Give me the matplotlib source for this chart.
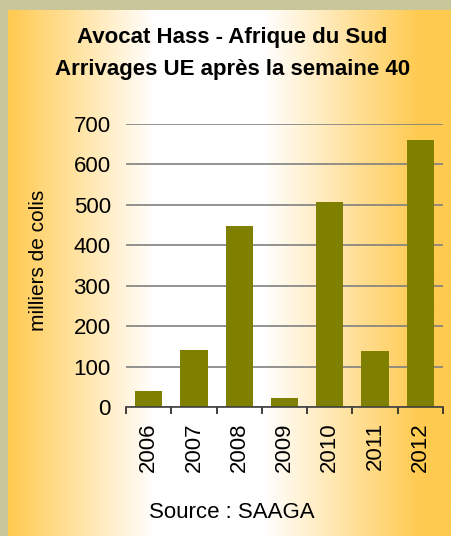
import numpy as np
import matplotlib
matplotlib.use("Agg")
import matplotlib.pyplot as plt
from matplotlib.colors import LinearSegmentedColormap

plt.rcParams["font.family"] = ["Liberation Sans", "DejaVu Sans"]

# data
years = ["2006", "2007", "2008", "2009", "2010", "2011", "2012"]
arrivals = [40, 141, 448, 22, 507, 139, 660]
y_ticks = [0, 100, 200, 300, 400, 500, 600, 700]

BORDER = "#c9c79a"
YELLOW = "#ffca50"
BAR = "#808000"
GRID = "#808080"

W, H = 451, 536
fig = plt.figure(figsize=(W / 100, H / 100), dpi=100)
fig.patch.set_facecolor(BORDER)

# gradient panel (border: 8 px left, 10 px top)
bg = fig.add_axes([8 / W, 0, 1 - 8 / W, 1 - 10 / H])
bg.axis("off")
cmap = LinearSegmentedColormap.from_list(
    "grad", [(0.0, YELLOW), (0.33, "#ffffff"), (0.58, "#ffffff"),
             (0.93, YELLOW), (1.0, YELLOW)])
bg.imshow(np.linspace(0, 1, 512)[None, :], aspect="auto", cmap=cmap,
          extent=[0, 1, 0, 1])
bg.set_xlim(0, 1)
bg.set_ylim(0, 1)

# plot area
x_left, x_right, y_top, y_bot = 126, 443, 124, 407
ax = fig.add_axes([x_left / W, 1 - y_bot / H, (x_right - x_left) / W,
                   (y_bot - y_top) / H])
ax.set_facecolor("none")

x = np.arange(len(years))
ax.bar(x, arrivals, width=0.6, color=BAR, zorder=3)
ax.set_xlim(-0.5, len(years) - 0.5)
ax.set_ylim(0, 700)

ax.set_yticks(y_ticks)
ax.yaxis.grid(True, color=GRID, linewidth=1.2, zorder=1)
ax.tick_params(axis="y", length=0, pad=11, labelsize=16)

ax.set_xticks(x)
ax.set_xticklabels(years, rotation=90, fontsize=16)
ax.set_xticks(np.arange(-0.5, len(years)), minor=True)
ax.tick_params(axis="x", which="major", length=0, pad=11)
ax.tick_params(axis="x", which="minor", length=5, width=1.2, color="#202020")

for side in ["top", "right", "left"]:
    ax.spines[side].set_visible(False)
ax.spines["bottom"].set_color("#404040")
ax.spines["bottom"].set_linewidth(1.2)
ax.spines["bottom"].set_zorder(4)

fig.text(232 / W, 1 - 37 / H, "Avocat Hass - Afrique du Sud",
         ha="center", va="center", fontsize=16, fontweight="bold")
fig.text(233 / W, 1 - 70 / H, "Arrivages UE après la semaine 40",
         ha="center", va="center", fontsize=16, fontweight="bold")
fig.text(38 / W, 1 - 260 / H, "milliers de colis", rotation=90,
         ha="center", va="center", fontsize=15)
fig.text(232 / W, 1 - 513 / H, "Source : SAAGA",
         ha="center", va="center", fontsize=16)

fig.savefig("out.png", dpi=100, facecolor=fig.get_facecolor())
